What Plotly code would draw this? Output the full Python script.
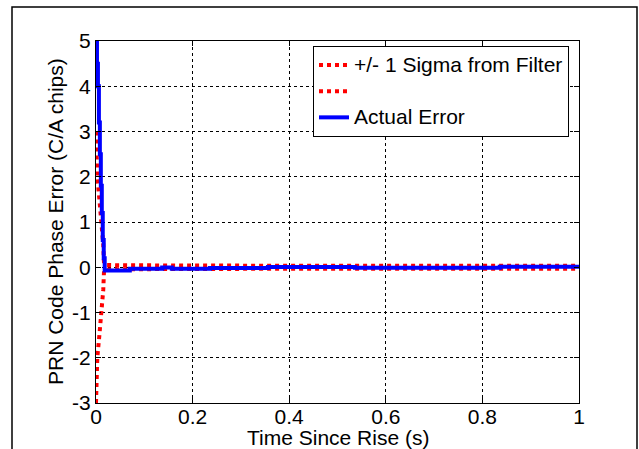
import plotly.graph_objects as go

# Actual error (blue), stepwise
time_err = [0, 0.002, 0.004, 0.006, 0.008, 0.010, 0.012, 0.014, 0.016, 0.018,
            0.070, 0.137, 0.157, 0.236, 0.356, 0.536, 0.836, 1.0]
actual_err = [5.0, 4.5, 4.0, 3.2, 2.5, 1.8, 1.2, 0.6, 0.2, -0.07,
              -0.035, -0.007, -0.035, -0.015, 0.008, -0.013, 0.01, 0.01]

# +/- 1 sigma from filter
time_sig = [0, 0.0027, 0.007, 0.0118, 0.015, 0.0166, 0.02, 0.05, 0.1, 0.2, 0.4, 0.6, 0.8, 1.0]
sigma_plus = [3.0, 2.0, 1.5, 1.0, 0.5, 0.08, 0.05, 0.045, 0.04, 0.037, 0.035, 0.034, 0.033, 0.032]
sigma_minus = [-v for v in sigma_plus]

x_ticks = [0, 0.2, 0.4, 0.6, 0.8, 1]
x_tick_labels = ["0", "0.2", "0.4", "0.6", "0.8", "1"]
y_ticks = [-3, -2, -1, 0, 1, 2, 3, 4, 5]
y_tick_labels = ["-3", "-2", "-1", "0", "1", "2", "3", "4", "5"]

legend_names = ["+/- 1 Sigma from Filter", " ", "Actual Error"]

FONT = "Arial, Liberation Sans, sans-serif"
FS = 21
LEG_FS = 17.8


def leg(name):
    return f"<span style='font-size:{FS}px'>{name}</span>"


fig = go.Figure()
fig.add_trace(go.Scatter(x=time_sig, y=sigma_plus, mode="lines",
                         name=leg(legend_names[0]),
                         line=dict(color="#ff0000", width=4, dash="dot")))
fig.add_trace(go.Scatter(x=time_sig, y=sigma_minus, mode="lines",
                         name=leg(legend_names[1]),
                         line=dict(color="#ff0000", width=4, dash="dot")))
fig.add_trace(go.Scatter(x=time_err, y=actual_err, mode="lines",
                         name=leg(legend_names[2]), line_shape="hv",
                         line=dict(color="#0000ff", width=4)))

axis_common = dict(
    showline=True, linecolor="black", linewidth=1, mirror="ticks",
    ticks="inside", ticklen=5, tickcolor="black",
    showgrid=True, gridcolor="black", gridwidth=1, griddash="dot",
    zeroline=False, automargin=False,
    tickfont=dict(family=FONT, size=FS, color="black"),
)

L, R, T, B = 96, 60, 41, 46
PW, PH = 639 - L - R, 449 - T - B

fig.update_layout(
    width=639, height=449,
    margin=dict(l=L, r=R, t=T, b=B),
    paper_bgcolor="white", plot_bgcolor="white",
    font=dict(family=FONT, size=FS, color="black"),
    xaxis=dict(range=[0, 1], tickvals=x_ticks, ticktext=x_tick_labels,
               ticklabelstandoff=-5, **axis_common),
    yaxis=dict(range=[-3, 5], tickvals=y_ticks, ticktext=y_tick_labels,
               **axis_common),
    legend=dict(x=(313 - L) / PW, y=(449 - B - 46) / PH, xanchor="left", yanchor="top",
                bgcolor="white", bordercolor="black", borderwidth=1,
                font=dict(family=FONT, size=LEG_FS), tracegroupgap=0,
                itemwidth=30),
    showlegend=True,
    annotations=[
        dict(text="Time Since Rise (s)", xref="paper", yref="paper",
             x=0.5, y=(449 - B - 437) / PH, xanchor="center", yanchor="middle",
             showarrow=False, font=dict(family=FONT, size=FS)),
        dict(text="PRN Code Phase Error (C/A chips)", xref="paper", yref="paper",
             x=(55 - L) / PW, y=(449 - B - 222) / PH, xanchor="center", yanchor="middle",
             textangle=-90, showarrow=False, font=dict(family=FONT, size=FS)),
    ],
    shapes=[dict(type="rect", xref="paper", yref="paper",
                 x0=(12 - L) / PW, x1=(637 - L) / PW,
                 y0=-0.3, y1=(449 - B - 7) / PH,
                 line=dict(color="black", width=1.5), layer="below")],
)

fig.write_html("out.html", config={"displayModeBar": False},
               post_script="document.body.style.margin='0px';document.body.style.overflow='hidden';")
